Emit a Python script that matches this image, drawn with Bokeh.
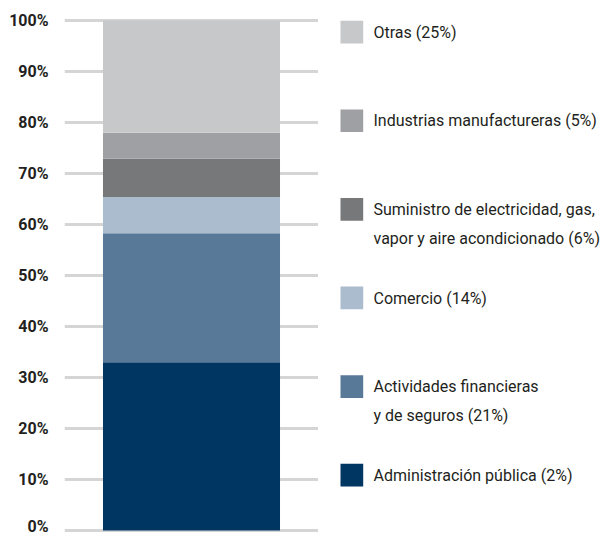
import numpy as np
from bokeh.plotting import figure
from bokeh.layouts import row
from bokeh.models import ColumnDataSource, Range1d, FixedTicker, PrintfTickFormatter
from bokeh.core.properties import value
from bokeh.embed import file_html
from bokeh.resources import INLINE

# ---- data (bottom to top) ----
categories = ["Administración pública (2%)",
              "Actividades financieras\ny de seguros (21%)",
              "Comercio (14%)",
              "Suministro de electricidad, gas,\nvapor y aire  acondicionado (6%)",
              "Industrias manufactureras (5%)",
              "Otras (25%)"]
shares = [33.0, 25.3, 7.1, 7.5, 5.1, 22.0]
colors = ["#003662", "#587a98", "#aabccd", "#77787a", "#9fa0a4", "#c7c8ca"]
y_ticks = list(range(0, 101, 10))

FONT = "Roboto"
TXT = "#231f20"

tops = np.cumsum(shares)
bottoms = tops - np.array(shares)
src = ColumnDataSource(dict(x=[0.5] * len(shares), bottom=bottoms, top=tops, color=colors))

TOP = 15
p = figure(width=318, height=535, output_backend="svg", toolbar_location=None,
           x_range=Range1d(0, 1), y_range=Range1d(-1, 101),
           min_border_left=64, min_border_right=0, min_border_top=TOP, min_border_bottom=0)
p.outline_line_color = None
p.background_fill_color = "white"
p.border_fill_color = "white"
p.xaxis.visible = False
p.xgrid.visible = False
p.ygrid.ticker = FixedTicker(ticks=y_ticks)
p.ygrid.grid_line_color = "#d5d5d5"
p.ygrid.grid_line_width = 3
p.yaxis.ticker = FixedTicker(ticks=y_ticks)
p.yaxis.formatter = PrintfTickFormatter(format="%d%%")
p.yaxis.axis_line_color = None
p.yaxis.major_tick_line_color = None
p.yaxis.minor_tick_line_color = None
p.yaxis.major_label_standoff = 10
p.yaxis.major_label_text_font = FONT
p.yaxis.major_label_text_font_style = "bold"
p.yaxis.major_label_text_font_size = "16px"
p.yaxis.major_label_text_color = TXT

p.vbar(x="x", width=0.697, bottom="bottom", top="top", color="color", line_color=None, source=src)

# ---- legend panel (pixel-like data coordinates measured from frame top, y downward) ----
LW, LH = 285, 535
FH = LH - TOP
lg = figure(width=LW, height=LH, output_backend="svg", toolbar_location=None,
            x_range=Range1d(0, LW), y_range=Range1d(FH, 0),
            min_border_left=0, min_border_right=0, min_border_top=TOP, min_border_bottom=0)
lg.outline_line_color = None
lg.axis.visible = False
lg.grid.visible = False

top0, step, sw = 20.3 - TOP, 88.6, 22.7
order = list(range(len(categories)))[::-1]  # Otras at top
sq = dict(left=[], right=[], top=[], bottom=[], color=[])
tx = dict(x=[], y=[], text=[])
for slot, i in enumerate(order):
    t = top0 + slot * step
    sq["left"].append(22); sq["right"].append(22 + sw)
    sq["top"].append(t); sq["bottom"].append(t + sw)
    sq["color"].append(colors[i])
    for k, line in enumerate(categories[i].split("\n")):
        tx["x"].append(55)
        tx["y"].append(t + 11.5 + k * 28.5)
        tx["text"].append(line)

lg.quad(left="left", right="right", top="top", bottom="bottom", color="color",
        line_color=None, source=ColumnDataSource(sq))
lg.text(x="x", y="y", text="text", source=ColumnDataSource(tx),
        text_font_size="16px", text_color=TXT, text_baseline="alphabetic",
        text_align="left", text_font=value(FONT))

layout = row(p, lg)
open("out.html", "w").write(file_html(layout, INLINE))
